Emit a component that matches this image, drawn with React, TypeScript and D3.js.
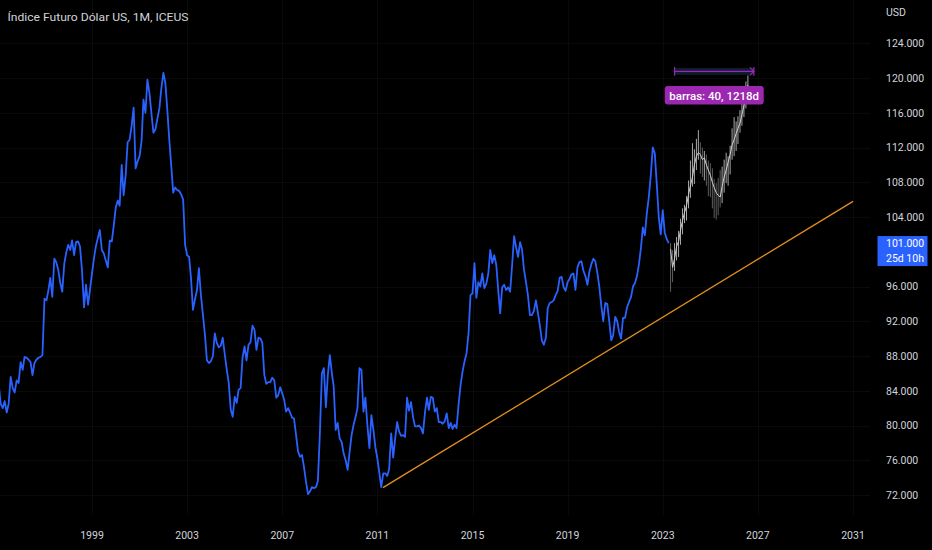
import React from 'react';
import * as d3 from 'd3';

const W = 932;
const H = 550;
const FONT = 'Roboto, "Liberation Sans", Arial, sans-serif';

// monthly closes, Jan 1995 .. Apr 2023
const firstMonth = new Date(1995, 0, 1);
const closes = [
  86.5, 84.5, 82.5, 82.0, 82.8, 81.5, 82.5, 85.6, 84.3, 83.8, 85.2, 84.9,
  87.3, 86.4, 87.9, 87.8, 87.6, 87.3, 85.8, 87.2, 87.6, 87.8, 87.9, 88.1,
  94.6, 94.4, 95.5, 97.0, 94.8, 99.2, 98.8, 97.9, 96.4, 95.4, 98.6, 99.9,
  100.8, 100.2, 101.3, 99.6, 101.1, 101.2, 100.6, 97.8, 93.6, 96.2, 93.9, 95.6,
  97.5, 99.3, 100.6, 101.6, 102.5, 100.2, 99.8, 99.0, 98.2, 101.3, 101.2, 103.0,
  105.1, 105.9, 105.3, 110.0, 106.5, 108.8, 112.6, 112.9, 114.5, 116.6, 109.6, 110.4,
  111.0, 112.8, 117.5, 116.0, 119.8, 118.3, 116.0, 113.7, 114.1, 115.3, 116.5, 118.8,
  120.6, 119.4, 116.5, 113.0, 110.0, 106.8, 107.4, 107.1, 107.0, 106.6, 106.0, 100.8,
  99.6, 99.4, 97.0, 93.3, 94.5, 95.6, 98.1, 95.0, 92.7, 90.5, 87.5, 87.2,
  87.4, 88.0, 90.6, 89.5, 89.0, 89.2, 90.1, 88.2, 86.4, 84.9, 81.8, 81.0,
  83.3, 82.6, 84.1, 84.3, 87.8, 89.1, 87.5, 89.3, 89.6, 91.5, 91.0, 88.7,
  90.1, 90.0, 89.5, 85.8, 84.8, 85.0, 85.0, 85.5, 85.2, 83.2, 83.5, 84.4,
  83.7, 82.9, 81.6, 82.0, 81.5, 80.9, 80.8, 78.9, 77.0, 76.4, 76.6, 75.2,
  73.5, 72.1, 72.4, 72.9, 72.8, 72.9, 73.6, 79.1, 86.0, 86.6, 82.1, 85.8,
  88.1, 86.0, 84.5, 79.5, 80.3, 78.5, 78.1, 76.8, 76.0, 74.9, 77.0, 78.9,
  80.1, 81.0, 82.0, 86.6, 86.4, 81.6, 83.2, 80.0, 77.4, 81.2, 79.5, 77.5,
  76.2, 74.5, 72.9, 74.5, 74.5, 74.2, 75.0, 79.1, 76.3, 78.5, 80.4, 79.3,
  78.8, 78.9, 78.7, 83.2, 81.7, 82.7, 81.0, 79.9, 79.9, 80.0, 79.7, 79.1,
  81.5, 83.2, 81.8, 83.3, 83.2, 81.6, 82.0, 80.4, 80.4, 80.2, 80.5, 81.4,
  79.7, 80.3, 79.6, 80.1, 79.7, 82.4, 84.6, 86.2, 87.4, 88.3, 90.6, 95.0,
  95.2, 98.7, 94.7, 96.5, 96.0, 97.5, 95.8, 96.3, 97.5, 100.2, 98.7, 99.6,
  98.5, 95.5, 92.9, 95.9, 96.2, 95.6, 95.9, 95.4, 98.5, 101.8, 100.5, 99.4,
  101.1, 100.2, 98.0, 96.5, 95.0, 92.7, 92.7, 93.2, 94.4, 93.0, 91.5, 89.8,
  89.3, 90.1, 93.5, 94.1, 94.2, 94.4, 95.0, 95.5, 97.0, 97.1, 95.9, 95.5,
  96.5, 96.9, 97.4, 97.5, 95.6, 98.2, 98.8, 98.9, 97.8, 97.2, 96.2, 97.7,
  98.6, 99.2, 98.9, 97.6, 96.0, 93.8, 92.0, 94.1, 94.0, 92.0, 89.8, 90.4,
  92.5, 92.0, 90.8, 90.0, 92.4, 92.4, 93.6, 94.2, 94.8, 96.0, 96.4, 97.2,
  98.6, 100.5, 102.8, 101.9, 104.4, 106.3, 108.8, 112.0, 111.3, 107.8, 104.0, 102.0,
  104.8, 102.2, 101.5, 101.0,
];

// projected bars (bars pattern), May 2023 onwards
const projFirstMonth = new Date(2023, 4, 1);
const projClose = [
  100.3, 98.2, 99.2, 100.6, 101.2, 102.5, 103.6, 104.5, 105.3, 106.6,
  107.6, 108.6, 110.0, 111.0, 111.4, 111.2, 110.6, 110.8, 110.0, 109.4,
  108.8, 108.0, 107.4, 106.8, 106.5, 106.3, 107.5, 108.6, 109.4, 110.3,
  111.2, 112.3, 112.9, 113.6, 114.2, 114.8, 115.8, 116.8, 118.0, 119.2,
];
const projHigh = [
  101.0, 100.2, 101.0, 101.7, 102.4, 103.8, 105.0, 105.4, 106.4, 108.2,
  110.5, 112.5, 111.8, 113.0, 114.0, 112.6, 112.0, 111.6, 111.2, 110.5,
  110.2, 109.6, 108.4, 107.9, 108.5, 109.4, 109.8, 110.6, 111.4, 111.0,
  112.2, 114.2, 115.5, 115.0, 115.6, 116.3, 117.5, 118.6, 119.6, 120.3,
];
const projLow = [
  95.4, 96.5, 97.8, 99.0, 99.4, 100.8, 102.0, 103.3, 103.6, 105.0,
  106.2, 107.5, 107.8, 109.4, 110.6, 109.0, 108.6, 108.2, 107.6, 106.4,
  106.3, 105.0, 103.9, 103.7, 104.2, 105.1, 105.6, 106.8, 107.9, 107.6,
  108.9, 110.6, 111.0, 111.6, 112.4, 113.7, 114.5, 115.5, 116.5, 117.6,
];

const yTicks = [72, 76, 80, 84, 88, 92, 96, 104, 108, 112, 116, 120, 124];
const xTickYears = [1999, 2003, 2007, 2011, 2015, 2019, 2023, 2027, 2031];

const trendStart = { date: new Date(2011, 2, 28), value: 72.85 };
const trendEnd = { date: new Date(2031, 0, 1), value: 105.8 };

const measure = { from: new Date(2023, 6, 1), to: new Date(2026, 10, 1), top: 121.15, bottom: 120.38 };
const measureLabel = 'barras: 40, 1218d';

const lastPrice = 101.0;
const lastPriceText = '101.000';
const countdown = '25d 10h';

const title = 'Índice Futuro Dólar US, 1M, ICEUS';

export default function App() {
  const x = d3.scaleTime().domain([new Date(1999, 0, 1), new Date(2031, 0, 1)]).range([92, 853]);
  const y = d3.scaleLinear().domain([72, 120]).range([495, 78]);

  const series = closes.map((v, i) => ({ date: d3.timeMonth.offset(firstMonth, i), v }));
  const line = d3.line<{ date: Date; v: number }>().x(d => x(d.date)).y(d => y(d.v));

  const proj = projClose.map((c, i) => ({
    date: d3.timeMonth.offset(projFirstMonth, i),
    c,
    h: projHigh[i],
    l: projLow[i],
    up: c >= (i === 0 ? closes[closes.length - 1] : projClose[i - 1]),
  }));
  const projLine = d3.line<{ date: Date; c: number }>().x(d => x(d.date)).y(d => y(d.c));

  const mx0 = x(measure.from);
  const mx1 = x(measure.to);
  const myTop = y(measure.top);
  const myBot = y(measure.bottom);
  const myMid = (myTop + myBot) / 2;
  const mcx = (mx0 + mx1) / 2;

  return (
    <div style={{ position: 'fixed', left: 0, top: 0, width: W, height: H, background: '#000' }}>
      <svg width={W} height={H} style={{ display: 'block', fontFamily: FONT }}>
        <rect width={W} height={H} fill="#000" />

        {/* faint grid */}
        <g stroke="#0a0a0a" strokeWidth={1}>
          {yTicks.map(t => (
            <line key={'gy' + t} x1={0} x2={870} y1={Math.round(y(t)) + 0.5} y2={Math.round(y(t)) + 0.5} />
          ))}
          {xTickYears.map(yr => (
            <line key={'gx' + yr} y1={0} y2={515} x1={Math.round(x(new Date(yr, 0, 1))) + 0.5} x2={Math.round(x(new Date(yr, 0, 1))) + 0.5} />
          ))}
        </g>

        {/* trend line */}
        <line
          x1={x(trendStart.date)}
          y1={y(trendStart.value)}
          x2={x(trendEnd.date)}
          y2={y(trendEnd.value)}
          stroke="#e3901d"
          strokeWidth={1.3}
        />

        {/* price line */}
        <path d={line(series) || ''} fill="none" stroke="#2962ff" strokeWidth={1.8} strokeLinejoin="round" />

        {/* projected bars */}
        <g>
          {proj.map((b, i) => (
            <line
              key={'b' + i}
              x1={x(b.date)}
              x2={x(b.date)}
              y1={y(b.h)}
              y2={y(b.l)}
              stroke={b.up ? '#a8a8a8' : '#5e5e5e'}
              strokeWidth={1}
            />
          ))}
          <path d={projLine(proj) || ''} fill="none" stroke="#cfcfcf" strokeWidth={1} />
        </g>

        {/* date range measure */}
        <rect x={mx0} y={myTop} width={mx1 - mx0} height={myBot - myTop} fill="#0f1d33" />
        <g stroke="#9c27b0" strokeWidth={1.2} fill="none">
          <line x1={mx0} x2={mx1} y1={myMid} y2={myMid} />
          <line x1={mx0} x2={mx0} y1={myTop - 1} y2={myBot + 1} />
          <polyline points={`${mx1 - 4},${myMid - 4} ${mx1},${myMid} ${mx1 - 4},${myMid + 4}`} />
          <line x1={mx1} x2={mx1} y1={myTop - 1} y2={myBot + 1} />
        </g>
        <rect x={mcx - 49.5} y={86} width={99} height={18.5} rx={3} fill="#9c27b0" />
        <text x={mcx} y={99.5} textAnchor="middle" fill="#fff" fontSize={11.5} fontWeight={500}>
          {measureLabel}
        </text>

        {/* title */}
        <text x={7.5} y={20.5} fill="#d1d4dc" fontSize={11.5} textLength={181} lengthAdjust="spacingAndGlyphs">
          {title}
        </text>

        {/* right axis */}
        <text x={886} y={16} fill="#d1d4dc" fontSize={10.5}>USD</text>
        {yTicks.map(t => (
          <text key={'yt' + t} x={886} y={y(t) + 3.8} fill="#d1d4dc" fontSize={10.5}>
            {d3.format('.3f')(t)}
          </text>
        ))}

        {/* last price label */}
        <rect x={877.5} y={y(lastPrice) - 7} width={50} height={30} fill="#2962ff" />
        <text x={886} y={y(lastPrice) + 4} fill="#fff" fontSize={10.5}>{lastPriceText}</text>
        <text x={886} y={y(lastPrice) + 19} fill="#fff" fontSize={10.5}>{countdown}</text>

        {/* bottom axis */}
        {xTickYears.map(yr => (
          <text key={'xt' + yr} x={x(new Date(yr, 0, 1))} y={539} textAnchor="middle" fill="#d1d4dc" fontSize={10.5}>
            {yr}
          </text>
        ))}
      </svg>
    </div>
  );
}
